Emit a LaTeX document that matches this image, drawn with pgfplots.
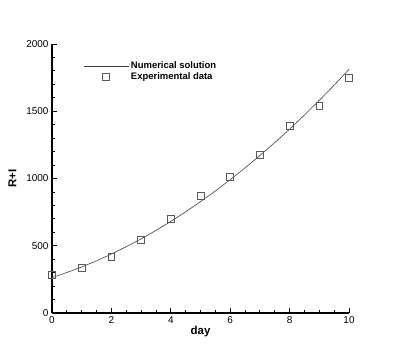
\documentclass[border=0pt]{standalone}
\usepackage{fontspec}
\setmainfont{Liberation Sans}
\usepackage{pgfplots}
\pgfplotsset{compat=1.18}

\pgfplotstableread{
x y
0 282
1 333
2 420
3 541
4 699
5 871
6 1012
7 1175
8 1390
9 1539
10 1747
}\expdata

\pgfplotstableread{
x y
0 263
0.5 301
1 342
1.5 388
2 438
2.5 493
3 551
3.5 614
4 681
4.5 752
5 828
5.5 907
6 991
6.5 1079
7 1171
7.5 1267
8 1367
8.5 1472
9 1581
9.5 1694
10 1812
}\numsol

\begin{document}
\begin{tikzpicture}
\path[use as bounding box] (-52bp,-40bp) rectangle (345bp,313bp);
\begin{axis}[
    scale only axis,
    width=297bp, height=269bp,
    xmin=0, xmax=10, ymin=0, ymax=2000,
    axis lines*=left,
    axis line style={line width=1.4pt},
    xtick={0,2,...,10}, ytick={0,500,...,2000},
    minor x tick num=3, minor y tick num=4,
    tick align=inside,
    major tick length=5bp, minor tick length=3bp,
    every tick/.style={line width=0.9pt, black},
    /pgf/number format/assume math mode=true,
    /pgf/number format/1000 sep={},
    tick label style={font=\fontsize{10}{12}\selectfont},
    xlabel={\textbf{day}}, ylabel={\textbf{R+I}},
    label style={font=\fontsize{11.5}{13}\selectfont},
    xlabel style={yshift=4bp},
    ylabel style={yshift=3bp},
    legend style={draw=none, fill=none, at={(rel axis cs:0.095,0.95)}, anchor=north west,
        font=\fontsize{9.5}{11}\selectfont\bfseries, row sep=-1.5bp,
        /tikz/every even column/.append style={column sep=0bp}},
    legend cell align=left,
    legend image code/.code={\draw[mark repeat=2,mark phase=2,#1] plot coordinates {(0bp,0bp) (22bp,0bp) (45bp,0bp)};},
]
\addplot[black!75, line width=0.6pt, no markers] table[x=x,y=y] {\numsol};
\addlegendentry{Numerical solution}
\addplot[only marks, mark=square, mark size=3.4bp, mark options={draw=black!65, line width=0.7pt}] table[x=x,y=y] {\expdata};
\addlegendentry{Experimental data}
\end{axis}
\end{tikzpicture}
\end{document}
